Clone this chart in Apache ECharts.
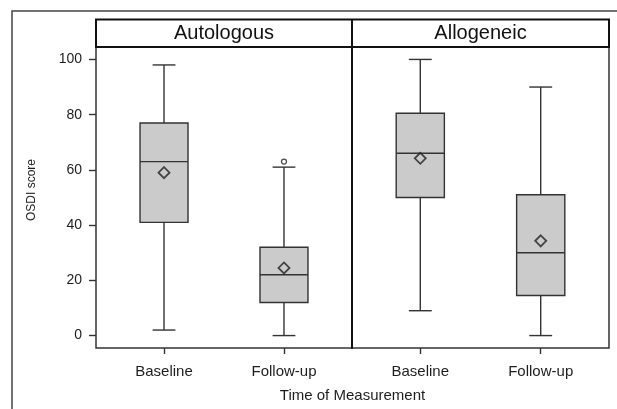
<!DOCTYPE html>
<html>
<head>
<meta charset="utf-8">
<script src="https://cdn.jsdelivr.net/npm/echarts@6/dist/echarts.min.js"></script>
<style>
html,body{margin:0;padding:0;background:#fff;}
#chart{width:617px;height:409px;}
</style>
</head>
<body>
<div id="chart"></div>
<script>
// ---- data ----
const panels = ['Autologous', 'Allogeneic'];
const categories = ['Baseline', 'Follow-up'];
const yTicks = [0, 20, 40, 60, 80, 100];
// [categoryIndex, min, Q1, median, Q3, max]
const autologousBoxes = [[0, 2, 41, 63, 77, 98], [1, 0, 12, 22, 32, 61]];
const allogeneicBoxes = [[0, 9, 50, 66, 80.5, 100], [1, 0, 14.5, 30, 51, 90]];
const autologousMeans = [[0, 59], [1, 24.5]];
const allogeneicMeans = [[0, 64.2], [1, 34.3]];
const autologousOutliers = [[1, 63]];
const allogeneicOutliers = [];

const FONT = 'Liberation Sans, Arial, sans-serif';
const LINE = '#333';
const TEXT = '#1e1e1e';

function renderBox(params, api) {
  const x = api.value(0);
  const pMin = api.coord([x, api.value(1)]);
  const pQ1 = api.coord([x, api.value(2)]);
  const pMed = api.coord([x, api.value(3)]);
  const pQ3 = api.coord([x, api.value(4)]);
  const pMax = api.coord([x, api.value(5)]);
  const half = api.size([0.4, 0])[0] / 2;
  const cap = api.size([0.19, 0])[0] / 2;
  const cx = pMed[0];
  const st = {stroke: LINE, lineWidth: 1.4, fill: null};
  return {
    type: 'group',
    children: [
      {type: 'line', shape: {x1: cx, y1: pMax[1], x2: cx, y2: pQ3[1]}, style: st},
      {type: 'line', shape: {x1: cx, y1: pQ1[1], x2: cx, y2: pMin[1]}, style: st},
      {type: 'line', shape: {x1: cx - cap, y1: pMax[1], x2: cx + cap, y2: pMax[1]}, style: st},
      {type: 'line', shape: {x1: cx - cap, y1: pMin[1], x2: cx + cap, y2: pMin[1]}, style: st},
      {type: 'rect', shape: {x: cx - half, y: pQ3[1], width: 2 * half, height: pQ1[1] - pQ3[1]},
        style: {fill: '#cbcbcb', stroke: LINE, lineWidth: 1.4}},
      {type: 'line', shape: {x1: cx - half, y1: pMed[1], x2: cx + half, y2: pMed[1]}, style: st}
    ]
  };
}

function xAxisFor(gi) {
  return {
    gridIndex: gi, type: 'value', min: -0.567, max: 1.567,
    splitLine: {show: false}, axisLine: {show: false, onZero: false},
    axisTick: {show: true, customValues: [0, 1], length: 6, lineStyle: {color: LINE, width: 1.4}},
    axisLabel: {show: true, customValues: [0, 1], margin: 16, fontSize: 15, fontFamily: FONT, color: TEXT,
      formatter: v => categories[Math.round(v)]}
  };
}
function yAxisFor(gi, labels) {
  return {
    gridIndex: gi, type: 'value', min: -4.5, max: 104.5,
    splitLine: {show: false}, axisLine: {show: false, onZero: false},
    axisTick: {show: labels, customValues: yTicks, length: 7, lineStyle: {color: LINE, width: 1.4}},
    axisLabel: {show: labels, customValues: yTicks, margin: 14, fontSize: 14, fontFamily: FONT, color: TEXT}
  };
}

const boxesByPanel = [autologousBoxes, allogeneicBoxes];
const meansByPanel = [autologousMeans, allogeneicMeans];
const outliersByPanel = [autologousOutliers, allogeneicOutliers];

const series = [];
[0, 1].forEach(gi => {
  series.push({type: 'custom', xAxisIndex: gi, yAxisIndex: gi, renderItem: renderBox,
    encode: {x: 0, y: [1, 2, 3, 4, 5]}, data: boxesByPanel[gi], silent: true, z: 2});
  series.push({type: 'scatter', xAxisIndex: gi, yAxisIndex: gi, symbol: 'diamond', symbolSize: [11, 11],
    itemStyle: {color: 'rgba(0,0,0,0)', borderColor: '#222', borderWidth: 1.8}, data: meansByPanel[gi], z: 3, silent: true});
  series.push({type: 'scatter', xAxisIndex: gi, yAxisIndex: gi, symbol: 'circle', symbolSize: 5,
    itemStyle: {color: '#fff', borderColor: '#222', borderWidth: 1.3}, data: outliersByPanel[gi], z: 3, silent: true});
});

const chart = echarts.init(document.getElementById('chart'), null, {renderer: 'canvas'});
chart.setOption({
  animation: false,
  backgroundColor: '#fff',
  grid: [
    {left: 96, top: 47, width: 256, height: 301, show: true, borderColor: '#333', borderWidth: 1.5, backgroundColor: 'transparent'},
    {left: 352, top: 47, width: 257, height: 301, show: true, borderColor: '#333', borderWidth: 1.5, backgroundColor: 'transparent'}
  ],
  xAxis: [xAxisFor(0), xAxisFor(1)],
  yAxis: [yAxisFor(0, true), yAxisFor(1, false)],
  series: series,
  graphic: [
    {type: 'rect', shape: {x: 12, y: 11, width: 800, height: 600}, style: {fill: null, stroke: '#444', lineWidth: 1.5}, z: 0, silent: true},
    {type: 'rect', shape: {x: 96, y: 19.5, width: 513, height: 27.5}, style: {fill: '#fff', stroke: '#111', lineWidth: 2}, z: 10, silent: true},
    {type: 'line', shape: {x1: 352, y1: 19, x2: 352, y2: 348.5}, style: {stroke: '#111', lineWidth: 2}, z: 10, silent: true},
    {type: 'text', x: 224, y: 33.5, style: {text: panels[0], font: '20px ' + FONT, fill: '#111', align: 'center', verticalAlign: 'middle'}, z: 11},
    {type: 'text', x: 480.5, y: 33.5, style: {text: panels[1], font: '20px ' + FONT, fill: '#111', align: 'center', verticalAlign: 'middle'}, z: 11},
    {type: 'text', x: 31.5, y: 190, rotation: Math.PI / 2, style: {text: 'OSDI score', font: '12px ' + FONT, fill: TEXT, align: 'center', verticalAlign: 'middle'}, z: 11},
    {type: 'text', x: 352.5, y: 396, style: {text: 'Time of Measurement', font: '15px ' + FONT, fill: TEXT, align: 'center', verticalAlign: 'middle'}, z: 11}
  ]
});
</script>
</body>
</html>
